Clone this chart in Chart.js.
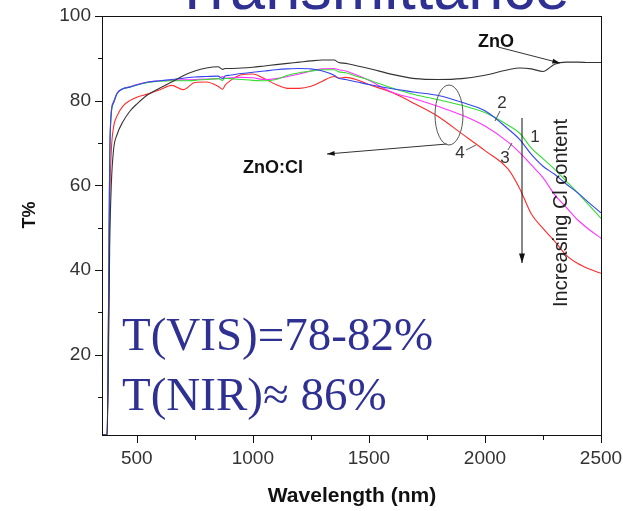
<!DOCTYPE html>
<html>
<head>
<meta charset="utf-8">
<script src="https://cdn.jsdelivr.net/npm/chart.js@4.4.1/dist/chart.umd.min.js"></script>
<style>
  body { margin: 0; background: #fff; }
  #wrap { width: 623px; height: 511px; position: relative; }
</style>
</head>
<body>
<div id="wrap"><canvas id="myChart"></canvas></div>
<script>
// wavelength grid (nm) shared by every curve
const wavelength = [350, 372, 378, 383, 390, 400, 415, 440, 470, 500, 550, 600, 650, 700, 750, 800, 850, 870, 880, 900,
  950, 1000, 1050, 1100, 1150, 1200, 1250, 1300, 1350, 1370, 1400, 1450, 1500, 1600, 1700, 1800, 1900, 2000,
  2100, 2150, 2200, 2250, 2300, 2350, 2400, 2450, 2500];

// transmittance T%
const tZnO = [1, 1, 20, 45, 60, 68.5, 72, 75, 77.5, 79.2, 81.5, 83, 84.4, 85.9, 87, 87.7, 88, 87.4, 87.6, 87.6,
  87.7, 87.9, 88.2, 88.5, 88.8, 89.1, 89.4, 89.6, 89.6, 89.0, 88.8, 88.2, 87.6, 86.2, 85.2, 85.0, 85.2, 86,
  87.3, 87.7, 87.5, 86.9, 88.6, 89.1, 89.1, 89.0, 89.0];
const tCl1 = [1, 1, 30, 65, 77, 79.5, 81.7, 82.8, 83.2, 83.7, 84.4, 84.7, 85, 85.3, 85.6, 85.7, 85.8, 85.2, 85.8, 86,
  86.4, 86.7, 87, 87.3, 87.5, 87.6, 87.5, 87, 86, 85.3, 85, 84.4, 83.8, 82.8, 82, 81.2, 79.6, 77.6,
  73.3, 70.8, 67.3, 64.5, 62.6, 60.3, 58.2, 55.8, 53.5];
const tCl2 = [1, 1, 30, 65, 77, 79.5, 81.7, 82.8, 83.2, 83.7, 84.3, 84.6, 84.7, 84.7, 84.8, 85, 85.2, 84.8, 85.3, 85.2,
  85, 84.8, 84.7, 85, 86, 86.6, 87, 87.3, 87.3, 86.8, 86.6, 85.7, 84.9, 83.0, 81.4, 80.2, 78.9, 77.2,
  74.2, 72.3, 68.8, 66.3, 63.8, 61, 58.2, 55.2, 52.2];
const tCl3 = [1, 1, 30, 65, 77.5, 79.8, 81.8, 82.8, 83.3, 83.8, 84.4, 84.7, 84.8, 84.9, 85, 85.1, 85.2, 85.7, 85.3, 85.4,
  85.5, 85.4, 85, 85.2, 85.7, 86.3, 87, 87.5, 87.6, 87.3, 87.0, 86.0, 84.8, 82.0, 80.4, 78.6, 76.6, 74.0,
  70.2, 67.7, 64.8, 61.8, 57.8, 54.8, 51.8, 49.5, 47.5];
const tCl4 = [1, 1, 25, 55, 68, 73.8, 76.4, 78.7, 80, 80.8, 81.6, 82.6, 83.6, 82.6, 84.3, 84.4, 83.4, 82.7, 83.6, 84.6,
  86.1, 86.3, 85.2, 83.8, 82.9, 82.9, 83.4, 84.6, 85.7, 85.3, 85.5, 84.9, 83.8, 81.9, 79.2, 76.2, 72.2, 68.2,
  63.8, 59.2, 53.2, 49.8, 46.8, 43.5, 41.5, 40.2, 39.2];

const seriesNames = ['ZnO', '1', '2', '3', '4'];
const seriesValues = [tZnO, tCl1, tCl2, tCl3, tCl4];
const seriesColors = ['#333333', '#3344ee', '#33dd33', '#ff33ff', '#ff2a2a'];

const xMajor = [500, 1000, 1500, 2000, 2500];
const xMinor = [750, 1250, 1750, 2250];
const yMajor = [20, 40, 60, 80, 100];
const yMinor = [10, 30, 50, 70, 90];

function toPoints(vals){
    return wavelength.map(function (w, i){ return {x: w, y: vals[i]} });
}

function arrow(ctx, x1, y1, x2, y2, head){
    ctx.beginPath();
    ctx.moveTo(x1, y1);
    ctx.lineTo(x2, y2);
    ctx.stroke();
    var a = Math.atan2(y2 - y1, x2 - x1);
    ctx.beginPath();
    ctx.moveTo(x2, y2);
    ctx.lineTo(x2 - head * Math.cos(a - 0.3), y2 - head * Math.sin(a - 0.3));
    ctx.lineTo(x2 - head * Math.cos(a + 0.3), y2 - head * Math.sin(a + 0.3));
    ctx.closePath();
    ctx.fill();
}

// frame, tick marks and all the drawn-on text
const decor = {
    id: 'decor',
    afterDraw(chart){
        const ctx = chart.ctx;
        const a = chart.chartArea;
        const xs = chart.scales.x, ys = chart.scales.y;
        ctx.save();
        ctx.strokeStyle = '#111';
        ctx.lineWidth = 1;
        ctx.strokeRect(a.left + 0.5, a.top + 0.5, a.right - a.left, a.bottom - a.top);

        ctx.beginPath();
        yMajor.forEach(function (v){ var y = Math.round(ys.getPixelForValue(v)) + 0.5; ctx.moveTo(a.left - 7, y); ctx.lineTo(a.left, y); });
        yMinor.forEach(function (v){ var y = Math.round(ys.getPixelForValue(v)) + 0.5; ctx.moveTo(a.left - 4, y); ctx.lineTo(a.left, y); });
        xMajor.forEach(function (v){ var x = Math.round(xs.getPixelForValue(v)) + 0.5; ctx.moveTo(x, a.bottom); ctx.lineTo(x, a.bottom + 8); });
        xMinor.forEach(function (v){ var x = Math.round(xs.getPixelForValue(v)) + 0.5; ctx.moveTo(x, a.bottom); ctx.lineTo(x, a.bottom + 5); });
        ctx.stroke();

        // big blue headings
        ctx.fillStyle = '#2e3192';
        ctx.textAlign = 'left';
        ctx.textBaseline = 'alphabetic';
        ctx.font = '63px "Liberation Sans", Arial, sans-serif';
        ctx.fillText('Transmittance', 173, 9);
        ctx.font = '47px "Liberation Serif", "Times New Roman", serif';
        ctx.fillText('T(VIS)=78-82%', 122, 350);
        ctx.fillText('T(NIR)\u2248 86%', 122, 410);

        // labels in the plot
        ctx.fillStyle = '#111';
        ctx.strokeStyle = '#333';
        ctx.font = 'bold 18px "Liberation Sans", Arial, sans-serif';
        ctx.fillText('ZnO', 478, 47);
        ctx.fillText('ZnO:Cl', 243, 173);
        arrow(ctx, 498, 47, 560, 63, 8);
        arrow(ctx, 447, 144, 327, 154, 8);

        ctx.strokeStyle = '#555';
        ctx.beginPath();
        ctx.ellipse(449, 115, 14, 30, 0, 0, Math.PI * 2);
        ctx.stroke();

        ctx.fillStyle = '#333';
        ctx.font = '17px "Liberation Sans", Arial, sans-serif';
        ctx.textAlign = 'center';
        ctx.textBaseline = 'middle';
        ctx.fillText('1', 535, 137);
        ctx.fillText('2', 502, 103);
        ctx.fillText('3', 505, 158);
        ctx.fillText('4', 460, 153);
        ctx.beginPath();
        ctx.moveTo(500, 111); ctx.lineTo(495, 121);
        ctx.moveTo(508, 150); ctx.lineTo(512, 143);
        ctx.moveTo(466, 150); ctx.lineTo(476, 145);
        ctx.stroke();

        ctx.fillStyle = '#111';
        ctx.strokeStyle = '#111';
        arrow(ctx, 522, 118, 522, 263, 10);

        ctx.save();
        ctx.translate(561, 213);
        ctx.rotate(-Math.PI / 2);
        ctx.font = '20px "Liberation Sans", Arial, sans-serif';
        ctx.fillStyle = '#222';
        ctx.fillText('Increasing Cl content', 0, 0);
        ctx.restore();

        // axis titles
        ctx.fillStyle = '#111';
        ctx.font = 'bold 21px "Liberation Sans", Arial, sans-serif';
        ctx.fillText('Wavelength (nm)', 352, 496);
        ctx.save();
        ctx.translate(30, 215);
        ctx.rotate(-Math.PI / 2);
        ctx.font = 'bold 18px "Liberation Sans", Arial, sans-serif';
        ctx.fillText('T%', 0, 0);
        ctx.restore();

        ctx.restore();
    }
};

const data = {
    datasets: seriesNames.map(function (n, i){
        return {
            label: n,
            data: toPoints(seriesValues[i]),
            borderColor: seriesColors[i],
            borderWidth: 1.1,
            pointRadius: 0,
            fill: false,
            cubicInterpolationMode: 'monotone'
        };
    })
};

const config = {
    type: 'line',
    data: data,
    options: {
        responsive: true,
        maintainAspectRatio: false,
        animation: false,
        layout: { padding: { left: 0, right: 22, top: 16, bottom: 0 } },
        plugins: { legend: { display: false }, tooltip: { enabled: false } },
        scales: {
            x: {
                type: 'linear',
                min: 350,
                max: 2500,
                afterFit: function (s){ s.height = 76; s.paddingLeft = 0; s.paddingRight = 0; },
                afterBuildTicks: function (s){ s.ticks = xMajor.map(function (v){ return {value: v}; }); },
                grid: { display: false, drawTicks: false },
                border: { display: false },
                ticks: {
                    padding: 12,
                    color: '#333',
                    maxRotation: 0,
                    callback: function (v){ return String(v); },
                    font: { family: '"Liberation Sans", Arial, sans-serif', size: 19 }
                }
            },
            y: {
                min: 1,
                max: 100,
                afterFit: function (s){ s.width = 102; s.paddingTop = 0; s.paddingBottom = 0; },
                afterBuildTicks: function (s){ s.ticks = yMajor.map(function (v){ return {value: v}; }); },
                grid: { display: false, drawTicks: false },
                border: { display: false },
                ticks: {
                    padding: 11,
                    color: '#333',
                    callback: function (v){ return String(v); },
                    font: { family: '"Liberation Sans", Arial, sans-serif', size: 19 }
                }
            }
        }
    },
    plugins: [decor]
};

const chart = new Chart('myChart', config);
</script>
</body>
</html>
